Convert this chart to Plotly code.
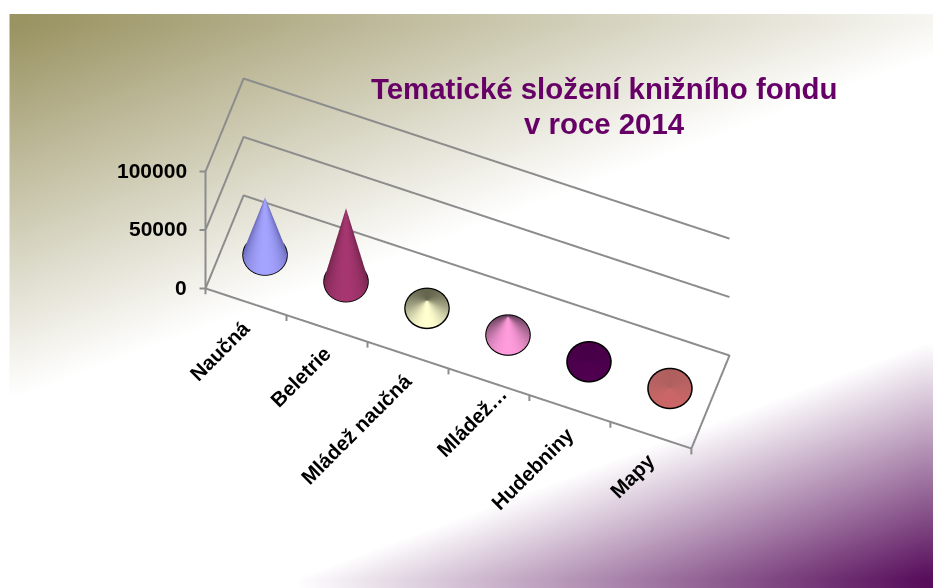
import numpy as np
import plotly.graph_objs as go

# chart data
CATEGORIES = ['Naučná', 'Beletrie', 'Mládež naučná', 'Mládež…', 'Hudebniny', 'Mapy']
VALUES = [49500, 63000, 7000, 16000, 300, 500]
Z_TICKS = [0, 50000, 100000]
TITLE_LINES = ['Tematické složení knižního fondu', 'v roce 2014']

# back / side / front shade of every cone
CONE_BACK = ['#50508a', '#55193a', '#66664f', '#6a4060', '#470047', '#b05f5f']
CONE_SIDE = ['#6f6fc0', '#74264e', '#a8a888', '#b06c98', '#4b004b', '#bd6464']
CONE_FRONT = ['#a4a4ff', '#a63670', '#ffffd0', '#ff9cdc', '#4f004f', '#cc6666']

LABEL_SHIFT = [0, 0, 0, 14, 0, 0]

GRID = '#8c8c8c'
FONT = 'Liberation Sans'

# screen size of the box: one category, the depth, and 100000 on z
CAT_PX = np.array([81.0, -26.67])
DEPTH_PX = np.array([38.0, 93.0])
FLOOR = np.linalg.inv(np.column_stack([CAT_PX, DEPTH_PX]))
Z_MAX = 100000
RX, RY = 22, 20


def floor_offset(px, py):
    # pixels on screen -> category / depth units on the floor
    return FLOOR @ np.array([px, py])


# background gradient, diagonal bands
bg_x = np.linspace(9.5, 933, 48)
bg_y = np.linspace(14, 588, 30)
xc = (bg_x[:-1] + bg_x[1:]) / 2
yc = (bg_y[:-1] + bg_y[1:]) / 2
bg_z = yc[:, None] + 0.374 * xc[None, :]
T0, T1, T2, T3 = 18, 404, 689, 937
bg_scale = [
    [0, 'rgb(150,143,92)'],
    [(T1 - T0) / (T3 - T0), 'rgb(255,255,255)'],
    [(T2 - T0) / (T3 - T0), 'rgb(255,255,255)'],
    [1, 'rgb(78,0,82)'],
]

fig = go.Figure()
fig.add_trace(go.Heatmap(x=bg_x, y=bg_y, z=bg_z, zmin=T0, zmax=T3, zsmooth='best',
                         colorscale=bg_scale, showscale=False, hoverinfo='skip'))


def add_line(xs, ys, zs, color=GRID, width=4):
    fig.add_trace(go.Scatter3d(x=xs, y=ys, z=zs, mode='lines', showlegend=False,
                               hoverinfo='skip', line=dict(color=color, width=width)))


n = len(CATEGORIES)

# walls
for z in Z_TICKS[1:]:
    add_line([0, 0, n], [0, 1, 1], [z, z, z])
# floor
add_line([0, 0, n, n, 0], [0, 1, 1, 0, 0], [0] * 5)
# corner and ticks
add_line([0, 0], [0, 0], [0, Z_MAX])
tick_dx = floor_offset(-6, 0)
for z in Z_TICKS:
    add_line([0, tick_dx[0]], [0, tick_dx[1]], [z, z])
for k in range(n + 1):
    add_line([k, k], [0, 0], [0, -5000])

# cones
t = np.linspace(0, 2 * np.pi, 181)
off = FLOOR @ np.vstack([RX * np.cos(t), RY * np.sin(t)])
shade = (1 - np.sin(t)) / 2
for i, v in enumerate(VALUES):
    cx = i + 0.5
    s = np.array([0.0, 1.0])[:, None]
    X = cx + s * off[0]
    Y = 0.5 + s * off[1]
    Z = (1 - s) * v * np.ones_like(t)
    fig.add_trace(go.Surface(
        x=X, y=Y, z=Z, surfacecolor=np.vstack([shade, shade]),
        cmin=0, cmax=1, showscale=False, hoverinfo='skip',
        colorscale=[[0, CONE_BACK[i]], [0.5, CONE_SIDE[i]], [1, CONE_FRONT[i]]],
        lighting=dict(ambient=1, diffuse=0, specular=0, fresnel=0, roughness=1),
    ))
    # ring sits a hair above the floor so it does not fight with the surface edge
    add_line(cx + off[0], 0.5 + off[1], np.full_like(t, 200.0), color='black', width=3)

annotations = []
for z in Z_TICKS:
    annotations.append(dict(x=0, y=0, z=z, text=str(z), showarrow=False, xanchor='right',
                            xshift=-17, yshift=1,
                            font=dict(family=FONT, size=21, color='black', weight=700)))
for i, c in enumerate(CATEGORIES):
    annotations.append(dict(x=i + 0.5, y=0, z=0, text=c, showarrow=False, textangle=-45,
                            xanchor='right', yanchor='top', xshift=11 + LABEL_SHIFT[i],
                            yshift=-11 + LABEL_SHIFT[i],
                            font=dict(family=FONT, size=20.5, color='black', weight=700)))

EYE = 3
ZOOM = 1.7606
fig.update_layout(
    width=933, height=588, margin=dict(l=0, r=0, t=0, b=0),
    paper_bgcolor='white', plot_bgcolor='white', showlegend=False,
    xaxis=dict(range=[0, 933], visible=False, domain=[0, 1]),
    yaxis=dict(range=[588, 0], visible=False, domain=[0, 1]),
    scene=dict(
        domain=dict(x=[0, 1], y=[0, 1]), bgcolor='rgba(0,0,0,0)',
        xaxis=dict(visible=False, range=[-0.2123, n + 0.1877]),
        yaxis=dict(visible=False, range=[-0.1, 1.1]),
        zaxis=dict(visible=False, range=[-60855, 108145]),
        aspectmode='manual',
        aspectratio=dict(x=1.0667 * ZOOM, y=0.256 * ZOOM, z=0.865 * ZOOM),
        camera=dict(projection=dict(type='orthographic'),
                    up=dict(x=0, y=0, z=1), center=dict(x=0, y=0, z=0),
                    eye=dict(x=0.152 * EYE, y=-0.414 * EYE, z=0.897 * EYE)),
        annotations=annotations,
    ),
    annotations=[dict(x=604, y=y, xref='x', yref='y', text=line, showarrow=False,
                      font=dict(family=FONT, size=29.4, color='#660066', weight=700))
                 for line, y in zip(TITLE_LINES, [88, 123])],
)

fig.write_html("out.html", config=dict(displayModeBar=False),
               post_script="document.body.style.margin='0';document.body.style.overflow='hidden';")
